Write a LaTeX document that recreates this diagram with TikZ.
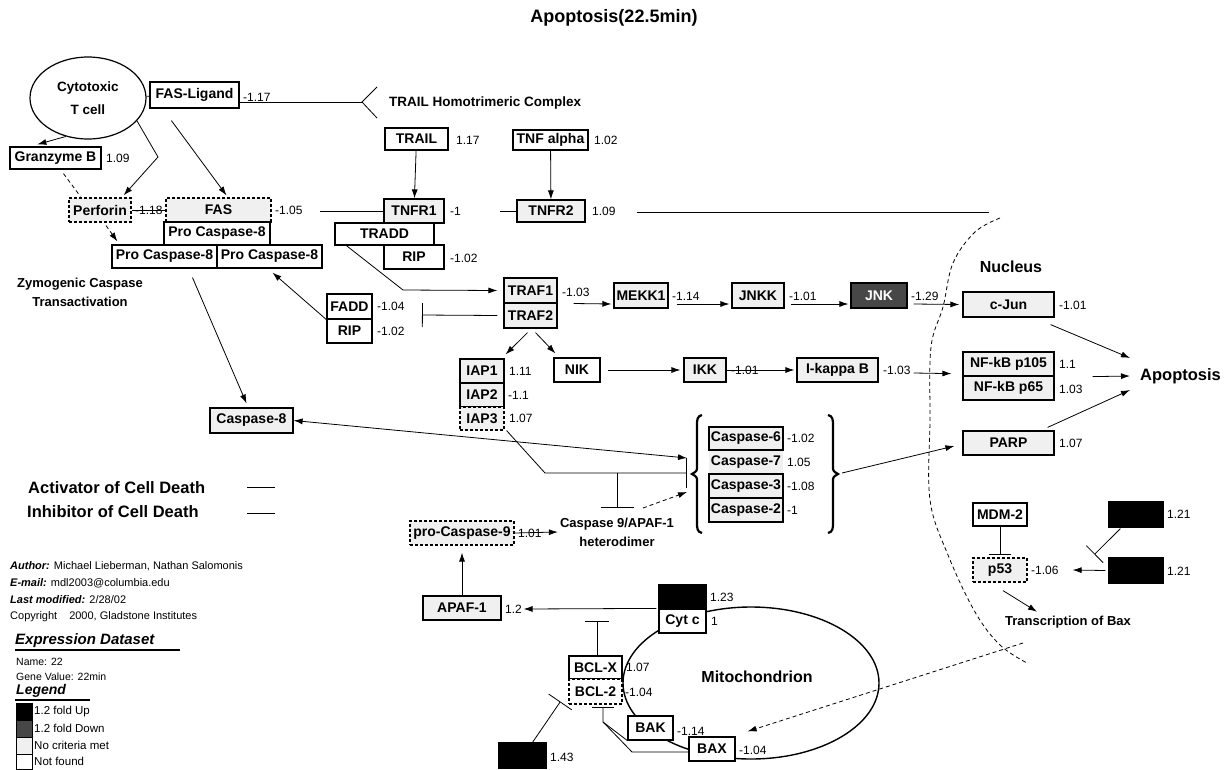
\documentclass[tikz,border=0pt]{standalone}
\usepackage{fontspec}
\setmainfont{Liberation Sans}
\usetikzlibrary{arrows.meta,calc,shapes.geometric}
\begin{document}
\begin{tikzpicture}[x=1pt,y=-1pt,
  sz/.style 2 args={minimum width=#1pt,minimum height=#2pt},
  bx/.style={draw,line width=1.2pt,fill=white,inner sep=0pt,font=\fontsize{14}{14}\selectfont\bfseries},
  nc/.style={bx,fill=gray!12},
  dbx/.style={dash pattern=on 3pt off 2pt},
  up/.style={bx,fill=black},
  dn/.style={bx,fill=black!72,text=white},
  val/.style={anchor=west,inner sep=0pt,font=\fontsize{12}{12}\selectfont},
  lbl/.style={inner sep=0pt,font=\fontsize{13}{19}\selectfont\bfseries},
  ln/.style={line width=0.8pt},
  arr/.style={ln,-{Latex[length=9pt,width=6pt]}},
  inh/.style={ln,-{Bar[width=#1]}}, inh/.default=24pt,
  dsh/.style={ln,dash pattern=on 4pt off 3pt},
]
\useasboundingbox (0,0) rectangle (1229,769);
\fill[white] (0,0) rectangle (1229,769);

\node[font=\fontsize{18}{18}\selectfont\bfseries] (title) at (614,18) {Apoptosis(22.5min)};

% background shapes
\node[draw,ellipse,line width=1.4pt,sz={256}{152},inner sep=0pt] (mito) at (751,683) {};
\node[inner sep=0pt,font=\fontsize{16}{16}\selectfont\bfseries] (mitolbl) at (757,677) {Mitochondrion};
\draw[dsh] plot[smooth,tension=0.6] coordinates {(1000,218) (975,232) (953,263) (943,307) (931,347) (930,420) (930,500) (948,555) (975,612) (1000,645) (1027,663)};

% T cell and top
\node[draw,ellipse,line width=1.2pt,sz={116}{82},inner sep=0pt,align=center,font=\fontsize{13.5}{23}\selectfont\bfseries] (tcell) at (88,98) {Cytotoxic\\T cell};
\node[bx,sz={89}{26}] (fasl) at (194.5,95) {FAS-Ligand};
\node[bx,sz={91}{22}] (grb) at (55.5,158) {Granzyme B};
\node[nc,dbx,sz={62}{24}] (perf) at (100,210) {Perforin};
\node[nc,dbx,sz={105}{24}] (fas) at (218.5,210) {FAS};
\node[bx,sz={106}{23}] (pc8a) at (217,233.5) {Pro Caspase-8};
\node[bx,sz={105}{23}] (pc8b) at (164.5,256.5) {Pro Caspase-8};
\node[bx,sz={105}{23}] (pc8c) at (269.5,256.5) {Pro Caspase-8};
\node[lbl,align=center] (zym) at (80,292) {Zymogenic Caspase\\Transactivation};
\node[lbl,anchor=west,font=\fontsize{13.5}{13.5}\selectfont\bfseries] (trailc) at (389,103) {TRAIL Homotrimeric Complex};

% TNF
\node[bx,sz={63}{22}] (trail) at (416.5,139) {TRAIL};
\node[bx,sz={75}{20}] (tnfa) at (550.5,140) {TNF alpha};
\node[nc,sz={60}{24}] (tnfr1) at (414,211) {TNFR1};
\node[bx,sz={99}{22}] (tradd) at (384.5,234) {TRADD};
\node[bx,sz={60}{24}] (rip1) at (414,257) {RIP};
\node[nc,sz={68}{22}] (tnfr2) at (551,211) {TNFR2};
\node[nc,sz={53}{25}] (traf1) at (530.5,290.5) {TRAF1};
\node[nc,sz={53}{25}] (traf2) at (530.5,315.5) {TRAF2};
\node[bx,sz={45}{25}] (fadd) at (349.5,306.5) {FADD};
\node[bx,sz={45}{24}] (rip2) at (349.5,331) {RIP};
\node[nc,sz={83}{25}] (casp8) at (251.5,420.5) {Caspase-8};
\node[nc,sz={44}{24}] (iap1) at (482,371) {IAP1};
\node[nc,sz={44}{24}] (iap2) at (482,395) {IAP2};
\node[nc,dbx,sz={44}{23}] (iap3) at (482,418.5) {IAP3};
\node[bx,sz={46}{24}] (nik) at (577,370) {NIK};
\node[nc,sz={42}{24}] (ikk) at (705,370) {IKK};
\node[nc,sz={81}{24}] (ikb) at (837.5,370) {I-kappa B};
\node[nc,sz={54}{25}] (mekk1) at (641,295.5) {MEKK1};
\node[nc,sz={52}{25}] (jnkk) at (758,295.5) {JNKK};
\node[dn,sz={56}{25}] (jnk) at (879,295.5) {JNK};

% nucleus
\node[inner sep=0pt,font=\fontsize{16}{16}\selectfont\bfseries] (nuc) at (1011,267) {Nucleus};
\node[nc,sz={91}{25}] (cjun) at (1008.5,304.5) {c-Jun};
\node[nc,sz={91}{24}] (nfkb1) at (1008.5,364) {NF-kB p105};
\node[nc,sz={91}{24}] (nfkb2) at (1008.5,388) {NF-kB p65};
\node[nc,sz={91}{24}] (parp) at (1008.5,443) {PARP};
\node[inner sep=0pt,anchor=west,font=\fontsize{16.5}{16.5}\selectfont\bfseries] (apop) at (1140,376) {Apoptosis};

% caspases
\node[nc,draw=none,sz={74}{24}] (c7) at (746,462) {Caspase-7};
\node[nc,sz={74}{23}] (c6) at (746,438.5) {Caspase-6};
\node[nc,sz={74}{24}] (c3) at (746,486) {Caspase-3};
\node[nc,sz={74}{24}] (c2) at (746,510) {Caspase-2};
\draw[line width=2.2pt] (702,415) .. controls (697,416) and (697,420) .. (697,426) -- (697,466) .. controls (697,471) .. (692,474) .. controls (697,477) .. (697,482) -- (697,522) .. controls (697,528) and (697,532) .. (702,533);
\draw[line width=2.2pt] (828,415) .. controls (833,416) and (833,420) .. (833,426) -- (833,466) .. controls (833,471) .. (838,474) .. controls (833,477) .. (833,482) -- (833,522) .. controls (833,528) and (833,532) .. (828,533);
\node[lbl,align=center] (c9a) at (617,532) {Caspase 9/APAF-1\\heterodimer};
\node[nc,dbx,sz={104}{24}] (proc9) at (462,533) {pro-Caspase-9};
\node[nc,sz={78}{24}] (apaf) at (462,608) {APAF-1};

% mitochondrion
\node[up,sz={47}{24}] (blk1) at (682.5,597) {};
\node[bx,sz={47}{24}] (cytc) at (682.5,621) {Cyt c};
\node[bx,sz={53}{23}] (bclx) at (595.5,667.5) {BCL-X};
\node[bx,dbx,sz={53}{25}] (bcl2) at (595.5,691.5) {BCL-2};
\node[bx,sz={45}{24}] (bak) at (650.5,728) {BAK};
\node[bx,sz={46}{24}] (bax) at (712,749) {BAX};
\node[up,sz={47}{25}] (blk3) at (522.5,755.5) {};

% p53
\node[bx,sz={54}{23}] (mdm2) at (1000,514.5) {MDM-2};
\node[nc,dbx,sz={54}{24}] (p53) at (1000,570) {p53};
\node[up,sz={54}{25}] (blk4) at (1136,514.5) {};
\node[up,sz={54}{25}] (blk5) at (1136,570.5) {};
\node[lbl] (trbax) at (1068,622) {Transcription of Bax};

% ---------- connectors ----------
\draw[ln] (tcell) -- (fasl);
\coordinate (fork) at (362,102);
\coordinate (forka) at (377,87);
\coordinate (forkb) at (377,118);
\draw[ln] ($(fasl.east)+(0,7)$) -- (fork);
\draw[ln] (forka) -- (fork) -- (forkb);
\draw[arr] (tcell.240) -- ($(grb.north west)+(28,-2)$);
\coordinate (tp) at (158,157);
\draw[arr] (tcell.-25) -- (tp) -- ($(perf.north east)+(-8,-2)$);
\draw[arr] ($(fasl.south west)+(22,12)$) -- ($(fas.north)+(8,-2)$);
\draw[ln] (perf) -- (fas);
\draw[dsh] ($(grb.south)+(8,4)$) -- ($(perf.north west)+(12,-1)$);
\draw[dsh,arr] ($(perf.south)+(6,3)$) -- ($(pc8b.north west)+(6,-3)$);

\draw[arr] (trail) -- (tnfr1);
\draw[arr] (tnfa) -- (tnfr2);
\coordinate (l1) at (320,211);
\draw[ln] (l1) -- (tnfr1.west);
\coordinate (l2) at (500,211);
\draw[ln] (l2) -- (tnfr2.west);
\coordinate (l3a) at (637,212);
\coordinate (l3b) at (989,212);
\draw[ln] (l3a) -- (l3b);
\coordinate (tr1) at (403,290);
\draw[arr] ($(tradd.south west)+(12,0)$) -- (tr1) -- ($(traf1.west)+(-6,0)$);
\coordinate (fbar) at (422,315);
\draw[inh] ($(traf2.west)+(-6,0)$) -- (fbar);
\draw[arr] (fadd.south west) -- ($(pc8c.south)+(3,4)$);
\draw[arr] ($(pc8b.south)+(28,9)$) -- ($(casp8.north)+(-5,-4)$);
\coordinate (brin) at (687,458);
\draw[ln,{Latex[length=9pt,width=6pt]}-{Latex[length=9pt,width=6pt]}] (casp8.east) -- (brin);

\draw[arr] ($(traf2.south)+(-3,4)$) -- ($(iap1.north east)+(1,-4)$);
\draw[arr] ($(traf2.south)+(5,4)$) -- ($(nik.north west)+(2,-4)$);
\draw[arr] ($(nik.east)+(7,0)$) -- ($(ikk.west)+(-3,0)$);
\draw[arr] (ikk.east) -- ($(ikb.west)+(-2,0)$);
\draw[arr] ($(ikb.east)+(35,3)$) -- ($(nfkb1.south west)+(-11,-3)$);

\draw[arr] ($(traf1.east)+(16,13)$) -- ($(mekk1.west)+(-2,8.5)$);
\draw[arr] ($(mekk1.east)+(8,8.5)$) -- ($(jnkk.west)+(-2,8.5)$);
\draw[arr] ($(jnkk.east)+(6,8.5)$) -- ($(jnk.west)+(-2,8.5)$);
\draw[arr] ($(jnk.east)+(6,8.5)$) -- ($(cjun.west)+(-3,0)$);

\draw[arr] ($(cjun.south east)+(-4,7)$) -- ($(apop.west)+(-10,-18)$);
\draw[arr] ($(nfkb1.south east)+(38,0)$) -- ($(apop.west)+(-10,0)$);
\draw[arr] ($(parp.north east)+(-7,-3)$) -- ($(apop.west)+(-10,14)$);

\coordinate (brR) at (842,473);
\draw[arr] (brR) -- ($(parp.west)+(-8,3)$);
\coordinate (iapj) at (545,473);
\coordinate (iapm) at (617,473);
\coordinate (brbar) at (687,473);
\coordinate (c9bar) at (617,508);
\draw[inh=30pt] ($(iap3.south east)+(2,0)$) -- (iapj) -- (brbar);
\draw[inh=33pt] (iapm) -- (c9bar);
\coordinate (c9d) at (643,508);
\draw[dsh,arr] (c9d) -- ($(brbar)+(0,19)$);
\draw[arr] (proc9.east) -- ($(c9a.west)+(-2,0)$);
\draw[arr] (apaf.north) -- ($(proc9.south)+(0,7)$);

\draw[arr] ($(cytc.north west)+(-2,0)$) -- ($(apaf.east)+(22,1)$);
\coordinate (bxbar) at (597,621);
\draw[inh] ($(bclx.north)+(1.5,0)$) -- (bxbar);
\coordinate (bj) at (603,722);
\coordinate (bb) at (603,707);
\coordinate (bk) at (632,752);
\draw[inh=22pt] (bak.south west) -- (bj) -- (bb);
\draw[ln] ($(bax.west)+(0,3)$) -- (bk) -- (bj);
\draw[inh=28pt] ($(blk3.north)+(10,0)$) -- ($(bcl2.south west)+(-8,-3)$);

\draw[inh=22pt] (mdm2.south) -- ($(p53.north)+(0,-3)$);
\draw[arr] ($(blk5.west)+(-3,0)$) -- ($(p53.east)+(45,0)$);
\draw[inh=24pt] ($(blk4.south west)+(12,1)$) -- ($(blk5.north west)+(-14,-3)$);
\draw[arr] ($(p53.south)+(3,8)$) -- ($(trbax.north)+(-31,-4)$);
\coordinate (nucend) at (1023,643);
\draw[dsh,arr] (nucend) -- ($(bax.north east)+(12,-5)$);

% ---------- values ----------
\node[val] (v1) at (243,97) {-1.17};
\node[val] (v2) at (106,158) {1.09};
\node[val] (v3) at (135,210) {-1.18};
\node[val] (v4) at (275,210) {-1.05};
\node[val] (v5) at (456,140) {1.17};
\node[val] (v6) at (594,140) {1.02};
\node[val] (v7) at (450,211) {-1};
\node[val] (v8) at (450,258) {-1.02};
\node[val] (v9) at (592,211) {1.09};
\node[val] (v10) at (562,292) {-1.03};
\node[val] (v11) at (377,306) {-1.04};
\node[val] (v12) at (377,331) {-1.02};
\node[val] (v13) at (509,371) {1.11};
\node[val] (v14) at (508,395) {-1.1};
\node[val] (v15) at (509,418) {1.07};
\node[val] (v16) at (731,370) {-1.01};
\node[val] (v17) at (883,370) {-1.03};
\node[val] (v18) at (1059,364) {1.1};
\node[val] (v19) at (1059,389) {1.03};
\node[val] (v20) at (1059,305) {-1.01};
\node[val] (v21) at (1059,443) {1.07};
\node[val] (v22) at (672,296) {-1.14};
\node[val] (v23) at (789,296) {-1.01};
\node[val] (v24) at (911,296) {-1.29};
\node[val] (v25) at (787,438) {-1.02};
\node[val] (v26) at (787,462) {1.05};
\node[val] (v27) at (787,486) {-1.08};
\node[val] (v28) at (787,510) {-1};
\node[val] (v29) at (518,533) {1.01};
\node[val] (v30) at (505,609) {1.2};
\node[val] (v31) at (710,597) {1.23};
\node[val] (v32) at (711,621) {1};
\node[val] (v33) at (626,667) {1.07};
\node[val] (v34) at (625,692) {-1.04};
\node[val] (v35) at (677,731) {-1.14};
\node[val] (v36) at (739,750) {-1.04};
\node[val] (v37) at (550,757) {1.43};
\node[val] (v38) at (1031,570) {-1.06};
\node[val] (v39) at (1167,514) {1.21};
\node[val] (v40) at (1167,571) {1.21};

% ---------- legend ----------
\node[anchor=west,inner sep=0pt,font=\fontsize{16.5}{16.5}\selectfont\bfseries] (act) at (28,488) {Activator of Cell Death};
\node[anchor=west,inner sep=0pt,font=\fontsize{16.5}{16.5}\selectfont\bfseries] (inhb) at (27,512) {Inhibitor of Cell Death};
\coordinate (la1) at (247,487); \coordinate (la2) at (275,487);
\coordinate (li1) at (247,513); \coordinate (li2) at (275,513);
\draw[ln] (la1) -- (la2);
\draw[ln] (li1) -- (li2);

\node[anchor=west,inner sep=0pt,font=\fontsize{11}{11}\selectfont] (au1) at (10,566) {\textbf{\textit{Author:}} Michael Lieberman, Nathan Salomonis};
\node[anchor=west,inner sep=0pt,font=\fontsize{11}{11}\selectfont] (au2) at (10,583) {\textbf{\textit{E-mail:}} mdl2003@columbia.edu};
\node[anchor=west,inner sep=0pt,font=\fontsize{11}{11}\selectfont] (au3) at (10,600) {\textbf{\textit{Last modified:}} 2/28/02};
\node[anchor=west,inner sep=0pt,font=\fontsize{11}{11}\selectfont] (au4) at (10,617) {Copyright\hspace{12pt}2000, Gladstone Institutes};

\node[anchor=west,inner sep=0pt,font=\fontsize{15}{15}\selectfont\bfseries\itshape] (exds) at (15,641) {Expression Dataset};
\coordinate (u1a) at (15,650); \coordinate (u1b) at (180,650);
\draw[line width=1.5pt] (u1a) -- (u1b);
\node[anchor=west,inner sep=0pt,font=\fontsize{10.5}{10.5}\selectfont] (nm) at (16,662) {Name: 22};
\node[anchor=west,inner sep=0pt,font=\fontsize{10.5}{10.5}\selectfont] (gv) at (16,677) {Gene Value: 22min};
\node[anchor=west,inner sep=0pt,font=\fontsize{14}{14}\selectfont\bfseries\itshape] (leg) at (16,691) {Legend};
\coordinate (u2a) at (15,700); \coordinate (u2b) at (90,700);
\draw[line width=1.5pt] (u2a) -- (u2b);
\node[draw,line width=0.8pt,fill=black,sz={16}{17},anchor=north west,inner sep=0pt] (sw1) at (16,703) {};
\node[draw,line width=0.8pt,fill=black!72,sz={16}{17},anchor=north west,inner sep=0pt] (sw2) at (16,720) {};
\node[draw,line width=0.8pt,fill=gray!12,sz={16}{17},anchor=north west,inner sep=0pt] (sw3) at (16,737) {};
\node[draw,line width=0.8pt,fill=white,sz={16}{15},anchor=north west,inner sep=0pt] (sw4) at (16,754) {};
\node[anchor=west,inner sep=0pt,font=\fontsize{11.5}{11.5}\selectfont] (lg1) at (34,711.5) {1.2 fold Up};
\node[anchor=west,inner sep=0pt,font=\fontsize{11.5}{11.5}\selectfont] (lg2) at (34,728.5) {1.2 fold Down};
\node[anchor=west,inner sep=0pt,font=\fontsize{11.5}{11.5}\selectfont] (lg3) at (34,745.5) {No criteria met};
\node[anchor=west,inner sep=0pt,font=\fontsize{11.5}{11.5}\selectfont] (lg4) at (34,761.5) {Not found};
\end{tikzpicture}
\end{document}
